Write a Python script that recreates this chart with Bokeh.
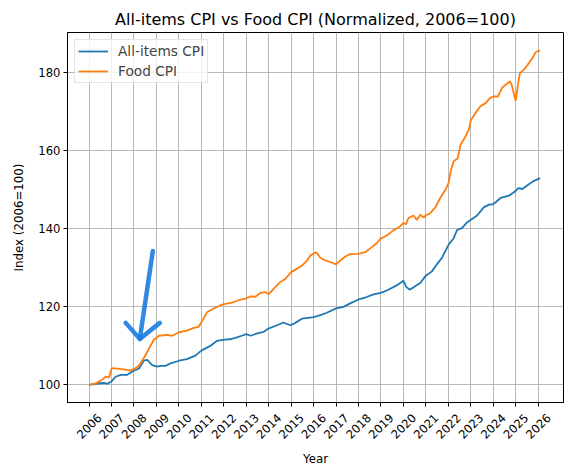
import math
from bokeh.plotting import figure
from bokeh.models import FixedTicker, Range1d, Legend, LegendItem, LinearAxis
from bokeh.embed import file_html
from bokeh.resources import INLINE

# ---- data ----
years_ticks = list(range(2006, 2027))
y_ticks = [100, 120, 140, 160, 180]

all_x = [2006.00, 2006.30, 2006.67, 2006.81, 2007.00, 2007.18, 2007.41, 2007.70,
         2008.01, 2008.22, 2008.44, 2008.59, 2008.81, 2009.02, 2009.18, 2009.40,
         2009.62, 2010.01, 2010.36, 2010.73, 2011.00, 2011.40, 2011.70, 2012.01,
         2012.29, 2012.58, 2012.80, 2013.00, 2013.19, 2013.49, 2013.78, 2014.01,
         2014.38, 2014.65, 2014.97, 2015.19, 2015.49, 2016.00, 2016.30, 2016.59,
         2017.00, 2017.33, 2017.63, 2018.00, 2018.30, 2018.67, 2019.00, 2019.33,
         2019.70, 2020.00, 2020.12, 2020.27, 2020.45, 2020.75, 2021.00, 2021.27,
         2021.49, 2021.72, 2022.01, 2022.24, 2022.39, 2022.61, 2022.84, 2023.01,
         2023.28, 2023.58, 2023.81, 2024.00, 2024.33, 2024.70, 2025.00, 2025.10,
         2025.30, 2025.60, 2025.82, 2026.09]
all_items = [100.0, 100.3, 100.5, 100.3, 100.9, 102.1, 102.6, 102.6,
             103.7, 104.2, 106.2, 106.4, 105.1, 104.7, 104.9, 104.9,
             105.5, 106.2, 106.6, 107.5, 108.8, 110.0, 111.3, 111.6,
             111.7, 112.2, 112.6, 113.0, 112.6, 113.2, 113.6, 114.5,
             115.3, 116.0, 115.3, 115.9, 117.0, 117.4, 117.9, 118.5,
             119.6, 120.0, 120.9, 121.9, 122.4, 123.2, 123.6, 124.4,
             125.5, 126.7, 125.2, 124.4, 125.0, 126.1, 128.0, 129.1,
             130.9, 132.6, 135.9, 137.6, 139.7, 140.2, 141.7, 142.3,
             143.4, 145.5, 146.2, 146.3, 147.9, 148.5, 149.7, 150.4,
             150.2, 151.5, 152.3, 153.0]

food_x = [2006.00, 2006.30, 2006.52, 2006.74, 2006.89, 2007.01, 2007.26, 2007.55,
          2007.85, 2008.01, 2008.22, 2008.44, 2008.66, 2008.88, 2009.11, 2009.48,
          2009.70, 2010.01, 2010.36, 2010.66, 2010.88, 2011.00, 2011.25, 2011.55,
          2011.84, 2012.01, 2012.36, 2012.66, 2013.00, 2013.19, 2013.41, 2013.64,
          2013.86, 2014.00, 2014.23, 2014.52, 2014.75, 2015.00, 2015.26, 2015.49,
          2015.71, 2015.86, 2016.12, 2016.30, 2016.52, 2016.74, 2017.00, 2017.19,
          2017.41, 2017.63, 2018.00, 2018.30, 2018.59, 2018.81, 2018.99, 2019.26,
          2019.55, 2019.85, 2020.00, 2020.12, 2020.22, 2020.45, 2020.60, 2020.75,
          2020.90, 2021.00, 2021.19, 2021.42, 2021.64, 2021.87, 2022.01, 2022.12,
          2022.24, 2022.42, 2022.54, 2022.72, 2022.91, 2023.01, 2023.21, 2023.43,
          2023.66, 2023.85, 2024.00, 2024.21, 2024.40, 2024.60, 2024.75, 2024.82,
          2025.00, 2025.10, 2025.19, 2025.37, 2025.52, 2025.75, 2025.90, 2026.09]
food = [100.0, 100.4, 101.1, 102.1, 101.9, 104.3, 104.2, 104.0,
        103.7, 104.1, 104.9, 106.9, 109.2, 111.5, 112.6, 112.8,
        112.6, 113.5, 113.9, 114.6, 114.9, 116.0, 118.6, 119.6,
        120.4, 120.7, 121.1, 121.7, 122.2, 122.7, 122.6, 123.6,
        123.8, 123.2, 124.7, 126.4, 127.2, 128.9, 129.8, 130.6,
        131.9, 133.2, 134.0, 132.6, 131.9, 131.5, 130.9, 131.9,
        132.9, 133.5, 133.6, 134.0, 135.3, 136.3, 137.5, 138.3,
        139.6, 140.6, 141.5, 141.2, 142.7, 143.4, 142.3, 143.6,
        142.9, 143.4, 144.0, 145.5, 147.9, 150.0, 151.7, 155.1,
        157.3, 158.1, 161.5, 163.2, 165.4, 167.9, 169.7, 171.4,
        172.2, 173.5, 173.9, 173.9, 176.2, 177.1, 177.8, 176.9,
        172.8, 176.9, 179.9, 180.8, 181.9, 183.8, 185.3, 185.7]

# hand-drawn arrow annotation (data coordinates)
arrow_shaft_x = [2008.84, 2008.26]
arrow_shaft_y = [134.3, 111.8]
arrow_head_x = [2007.63, 2008.26, 2009.15]
arrow_head_y = [115.9, 111.8, 115.9]

FONT = "DejaVu Sans"
X0, X1 = 2005.04, 2027.13
FRAME_W = 496
# shift (in years) so that Bokeh's end-anchored rotated labels end up centred
LABEL_SHIFT = 10.3 * (X1 - X0) / FRAME_W

p = figure(width=564, height=468, output_backend="svg", toolbar_location=None,
           x_range=Range1d(X0, X1), y_range=Range1d(95.5, 190.3),
           min_border_left=67, min_border_right=1, min_border_top=32,
           min_border_bottom=66,
           title="All-items CPI vs Food CPI (Normalized, 2006=100)")

p.title.align = "center"
p.title.text_font = FONT
p.title.text_font_size = "16px"
p.title.text_font_style = "normal"
p.title.text_color = "black"
p.title.standoff = 7

p.outline_line_color = "black"
p.outline_line_width = 1
p.background_fill_color = "white"
p.border_fill_color = "white"

# main x axis: ticks only
p.xaxis.ticker = FixedTicker(ticks=years_ticks)
p.xaxis.major_label_overrides = {t: "" for t in years_ticks}
p.xaxis.major_label_text_font_size = "0px"
p.xaxis.major_label_standoff = 0
p.yaxis.ticker = FixedTicker(ticks=y_ticks)
for ax in (p.xaxis[0], p.yaxis[0]):
    ax.major_tick_in = 0
    ax.major_tick_out = 4
    ax.minor_tick_line_color = None
    ax.axis_line_color = "black"
    ax.major_tick_line_color = "black"
p.yaxis.major_label_text_font = FONT
p.yaxis.major_label_text_font_size = "11.6px"
p.yaxis.major_label_text_color = "black"
p.yaxis.major_label_standoff = 3
p.yaxis.axis_label = "Index (2006=100)"
p.yaxis.axis_label_text_font = FONT
p.yaxis.axis_label_text_font_size = "11.8px"
p.yaxis.axis_label_text_font_style = "normal"
p.yaxis.axis_label_text_color = "black"
p.yaxis.axis_label_standoff = 9

# second x axis carrying the rotated year labels, centred under the ticks
label_ticks = [t + LABEL_SHIFT for t in years_ticks]
lab_axis = LinearAxis(ticker=FixedTicker(ticks=label_ticks),
                      major_label_overrides={lt: str(t) for lt, t in zip(label_ticks, years_ticks)},
                      major_label_orientation=math.pi / 4,
                      major_label_text_font=FONT,
                      major_label_text_font_size="11.6px",
                      major_label_text_color="black",
                      major_label_standoff=9,
                      major_tick_in=0, major_tick_out=0,
                      major_tick_line_color=None, minor_tick_line_color=None,
                      axis_line_color=None,
                      axis_label="Year",
                      axis_label_text_font=FONT,
                      axis_label_text_font_size="11.8px",
                      axis_label_text_font_style="normal",
                      axis_label_text_color="black",
                      axis_label_standoff=6)
p.add_layout(lab_axis, "below")

p.xgrid.ticker = FixedTicker(ticks=years_ticks)
p.grid.grid_line_color = "#b0b0b0"
p.grid.grid_line_width = 0.9

r1 = p.line(all_x, all_items, line_color="#1f77b4", line_width=1.8)
r2 = p.line(food_x, food, line_color="#ff7f0e", line_width=1.8)

p.line(arrow_shaft_x, arrow_shaft_y, line_color="#1a7ce0", line_width=4.5,
       line_alpha=0.9, line_cap="round")
p.line(arrow_head_x, arrow_head_y, line_color="#1a7ce0", line_width=4.5,
       line_alpha=0.9, line_cap="round", line_join="round")

legend = Legend(items=[LegendItem(label="All-items CPI", renderers=[r1]),
                       LegendItem(label="Food CPI", renderers=[r2])],
                location="top_left")
legend.label_text_font = FONT
legend.label_text_font_size = "13.7px"
legend.glyph_width = 30
legend.glyph_height = 14
legend.label_height = 14
legend.label_standoff = 10
legend.spacing = 4
legend.padding = 3
legend.margin = 7
legend.border_line_color = "#cccccc"
legend.border_line_width = 1
legend.background_fill_alpha = 0.8
p.add_layout(legend)

open("out.html", "w").write(file_html(p, INLINE))
